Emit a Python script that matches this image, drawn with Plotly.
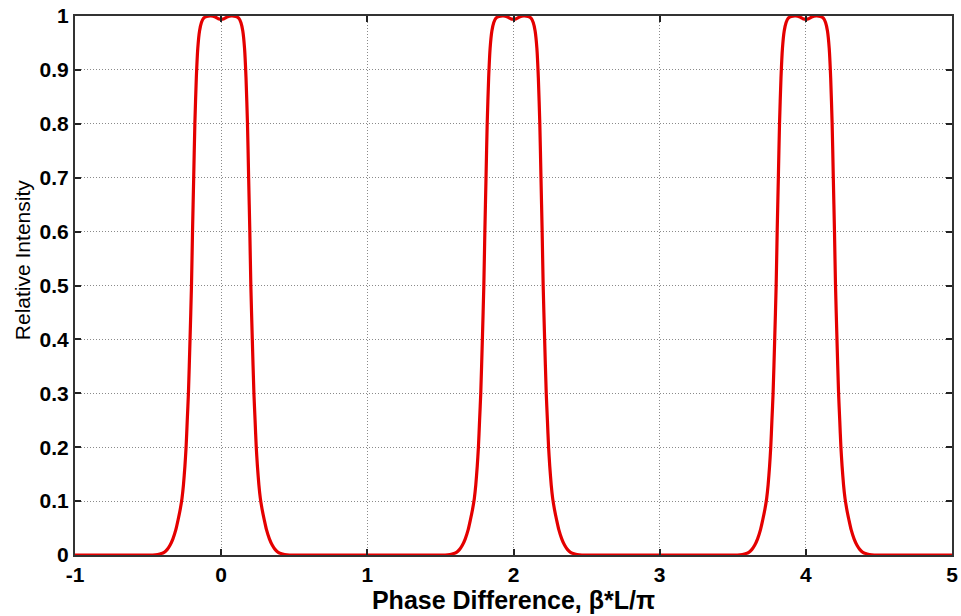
import plotly.graph_objects as go

# Data
peak_centers = [0, 2, 4]
# one-sided peak profile: offset from peak centre (in units of pi) and relative intensity
profile_offset = [0.50, 0.45, 0.42, 0.39, 0.37, 0.35, 0.33, 0.31, 0.295, 0.28, 0.268, 0.258,
                  0.248, 0.240, 0.232, 0.224, 0.213, 0.203, 0.196, 0.188, 0.180, 0.170,
                  0.160, 0.148, 0.135, 0.120, 0.100, 0.070, 0.040, 0.020, 0.0]
profile_intensity = [0.0, 0.0005, 0.002, 0.005, 0.01, 0.018, 0.03, 0.047, 0.065, 0.085, 0.105, 0.13,
                     0.165, 0.2, 0.25, 0.3, 0.4, 0.5, 0.6, 0.7, 0.8, 0.885,
                     0.94, 0.972, 0.988, 0.996, 0.999, 1.0, 0.998, 0.995, 0.994]
x_start, x_end = -1, 5

x_tick_vals = [-1, 0, 1, 2, 3, 4, 5]
y_tick_vals = [0, 0.1, 0.2, 0.3, 0.4, 0.5, 0.6, 0.7, 0.8, 0.9, 1]
y_tick_text = ["0", "0.1", "0.2", "0.3", "0.4", "0.5", "0.6", "0.7", "0.8", "0.9", "1"]

# assemble the trace
xs = [x_start]
ys = [0.0]
for c in peak_centers:
    for o, v in zip(profile_offset, profile_intensity):
        xs.append(c - o)
        ys.append(v)
    for o, v in zip(reversed(profile_offset[:-1]), reversed(profile_intensity[:-1])):
        xs.append(c + o)
        ys.append(v)
xs.append(x_end)
ys.append(0.0)

fig = go.Figure()
fig.add_trace(go.Scatter(
    x=xs, y=ys, mode="lines",
    line=dict(color="rgb(228,0,0)", width=3.2, shape="spline", smoothing=0.6),
    hoverinfo="skip", showlegend=False,
))

tick_font = dict(family="Liberation Sans, Arial, sans-serif", size=21, color="black")
grid_style = dict(showgrid=True, gridcolor="#8a8a8a", griddash="1px,2px", gridwidth=1)

fig.update_layout(
    width=961, height=616,
    margin=dict(l=75, r=9, t=16, b=61),
    paper_bgcolor="white", plot_bgcolor="white",
    font=dict(family="Liberation Sans, Arial, sans-serif", color="black"),
    xaxis=dict(
        range=[-1, 5], tickvals=x_tick_vals, ticktext=[f"<b>{v}</b>" for v in x_tick_vals],
        tickfont=tick_font, ticks="inside", ticklen=6, tickwidth=1.5, tickcolor="#222",
        showline=True, linecolor="#333", linewidth=2, mirror="ticks",
        zeroline=False, automargin=False, **grid_style,
        title=dict(text="<b>Phase Difference, β*L/π</b>",
                   font=dict(family="Liberation Sans, Arial, sans-serif", size=25, color="black"),
                   standoff=6),
    ),
    yaxis=dict(
        range=[0, 1], tickvals=y_tick_vals, ticktext=[f"<b>{t}</b>" for t in y_tick_text],
        tickfont=tick_font, ticks="inside", ticklen=6, tickwidth=1.5, tickcolor="#222",
        showline=True, linecolor="#333", linewidth=2, mirror="ticks",
        zeroline=False, automargin=False, **grid_style,
    ),
    annotations=[dict(
        text="Relative Intensity", textangle=-90, showarrow=False,
        xref="paper", yref="paper", x=-53 / 877, y=0.547,
        xanchor="center", yanchor="middle",
        font=dict(family="Liberation Sans, Arial, sans-serif", size=21, color="black"),
    )],
)

fig.write_html("out.html")
